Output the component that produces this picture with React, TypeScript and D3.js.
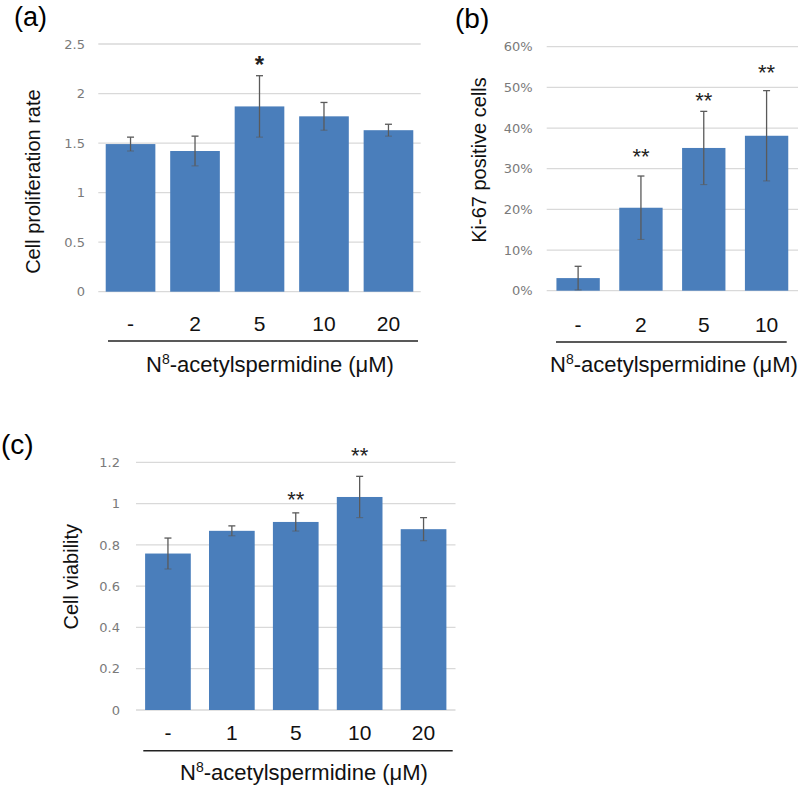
import React from "react";
import * as d3 from "d3";

// ---------- data ----------
const catsA = ["-", "2", "5", "10", "20"];
const valsA = [1.49, 1.42, 1.87, 1.77, 1.63];
const errA = [0.07, 0.15, 0.31, 0.14, 0.06];
const sigA = ["", "", "*", "", ""];
const sigAtA = [0, 0, 2.34, 0, 0];
const ticksA = [0, 0.5, 1, 1.5, 2, 2.5];

const catsB = ["-", "2", "5", "10"];
const valsB = [3.1, 20.4, 35.1, 38.1];
const errB = [2.9, 7.8, 9.0, 11.1];
const sigB = ["", "**", "**", "**"];
const sigAtB = [0, 34.2, 48.1, 54.8];
const ticksB = [0, 10, 20, 30, 40, 50, 60];

const catsC = ["-", "1", "5", "10", "20"];
const valsC = [0.758, 0.868, 0.911, 1.032, 0.876];
const errC = [0.075, 0.024, 0.044, 0.1, 0.056];
const sigC = ["", "", "**", "**", ""];
const sigAtC = [0, 0, 1.044, 1.258, 0];
const ticksC = [0, 0.2, 0.4, 0.6, 0.8, 1, 1.2];

const FONT = "'Liberation Sans', Arial, sans-serif";
const TICKFONT = "'DejaVu Sans', Verdana, sans-serif";
const BAR = "#4a7ebb";
const GRID = "#d9d9d9";
const ERR = "#5a5a5a";

type PanelProps = {
  cats: string[];
  vals: number[];
  errs: number[];
  sig: string[];
  sigAt: number[];
  ticks: number[];
  fmt: (d: number) => string;
  yTitle: string;
  label: string;
  L: any;
};

function Panel({ cats, vals, errs, sig, sigAt, ticks, fmt, yTitle, label, L }: PanelProps) {
  const x = d3.scaleBand<string>().domain(cats).range([L.left, L.right]).paddingInner(L.pad).paddingOuter(L.pad / 2);
  const y = d3.scaleLinear().domain([0, ticks[ticks.length - 1]]).range([L.bottom, L.top]);
  const bw = x.bandwidth();
  const cap = 3.5;
  return (
    <g>
      <text x={L.labelX} y={L.labelY} fontFamily={FONT} fontSize={L.labelSize} fill="#000">{label}</text>
      {ticks.map((t) => (
        <g key={"t" + t}>
          <line x1={L.left} x2={L.right} y1={y(t)} y2={y(t)} stroke={GRID} strokeWidth={1.3} />
          <text x={L.tickX} y={y(t)} dy="0.36em" textAnchor="end" fontFamily={TICKFONT} fontSize={13} fill="#7a7a7a">{fmt(t)}</text>
        </g>
      ))}
      {cats.map((c, i) => {
        const cx = (x(c) as number) + bw / 2;
        const hi = y(vals[i] + errs[i]);
        const lo = y(vals[i] - errs[i]);
        return (
          <g key={"b" + c}>
            <rect x={x(c)} y={y(vals[i])} width={bw} height={y(0) - y(vals[i])} fill={BAR} />
            <line x1={cx} x2={cx} y1={hi} y2={lo} stroke={ERR} strokeWidth={1.3} />
            <line x1={cx - cap} x2={cx + cap} y1={hi} y2={hi} stroke={ERR} strokeWidth={1.3} />
            <line x1={cx - cap} x2={cx + cap} y1={lo} y2={lo} stroke={ERR} strokeWidth={1.1} opacity={0.6} />
            {sig[i] ? (
              <text x={cx} y={y(sigAt[i]) + (sig[i] === "*" ? 13.5 : 12.5)} textAnchor="middle" fontFamily={FONT}
                fontSize={sig[i] === "*" ? 24 : 22} fontWeight={sig[i] === "*" ? "bold" : "normal"} fill="#222">{sig[i]}</text>
            ) : null}
            <text x={cx} y={L.catY} textAnchor="middle" fontFamily={FONT} fontSize={21} fill="#111">{c}</text>
          </g>
        );
      })}
      <line x1={L.lineX0} x2={L.lineX1} y1={L.lineY} y2={L.lineY} stroke="#222" strokeWidth={1.6} />
      <text x={L.xTitleX} y={L.xTitleY} textAnchor="middle" fontFamily={FONT} fontSize={22} fill="#111">
        <tspan>N</tspan>
        <tspan dy={-8} fontSize={14}>8</tspan>
        <tspan dy={8}>-acetylspermidine (μM)</tspan>
      </text>
      <text transform={`translate(${L.yTitleX},${L.yTitleY}) rotate(-90)`} textAnchor="middle" fontFamily={FONT} fontSize={20} fill="#111">{yTitle}</text>
    </g>
  );
}

const LA = { left: 98.3, right: 420.7, top: 44, bottom: 291.7, pad: 0.23, tickX: 85, yTitleX: 40, yTitleY: 181.6,
  catY: 330.5, lineY: 341, lineX0: 108, lineX1: 418, xTitleX: 270, xTitleY: 372, labelX: 14, labelY: 26, labelSize: 27 };
const LB = { left: 546.7, right: 798, top: 46.7, bottom: 290.7, pad: 0.31, tickX: 532.7, yTitleX: 486, yTitleY: 160,
  catY: 331.7, lineY: 342, lineX0: 556, lineX1: 786.7, xTitleX: 674, xTitleY: 371.7, labelX: 455, labelY: 27.5, labelSize: 28 };
const LC = { left: 136, right: 455.5, top: 462.3, bottom: 710, pad: 0.285, tickX: 120, yTitleX: 77.6, yTitleY: 576.7,
  catY: 740, lineY: 750.7, lineX0: 143.3, lineX1: 452.7, xTitleX: 304, xTitleY: 780, labelX: 1, labelY: 454, labelSize: 28 };

export default function App() {
  return (
    <div style={{ position: "absolute", left: 0, top: 0, width: 800, height: 789, background: "#fff" }}>
      <svg width={800} height={789} viewBox="0 0 800 789" style={{ display: "block" }}>
        <rect width={800} height={789} fill="#fff" />
        <Panel cats={catsA} vals={valsA} errs={errA} sig={sigA} sigAt={sigAtA} ticks={ticksA}
          fmt={(d) => String(d)} yTitle="Cell proliferation rate" label="(a)" L={LA} />
        <Panel cats={catsB} vals={valsB} errs={errB} sig={sigB} sigAt={sigAtB} ticks={ticksB}
          fmt={(d) => d + "%"} yTitle="Ki-67 positive cells" label="(b)" L={LB} />
        <Panel cats={catsC} vals={valsC} errs={errC} sig={sigC} sigAt={sigAtC} ticks={ticksC}
          fmt={(d) => String(d)} yTitle="Cell viability" label="(c)" L={LC} />
      </svg>
    </div>
  );
}
